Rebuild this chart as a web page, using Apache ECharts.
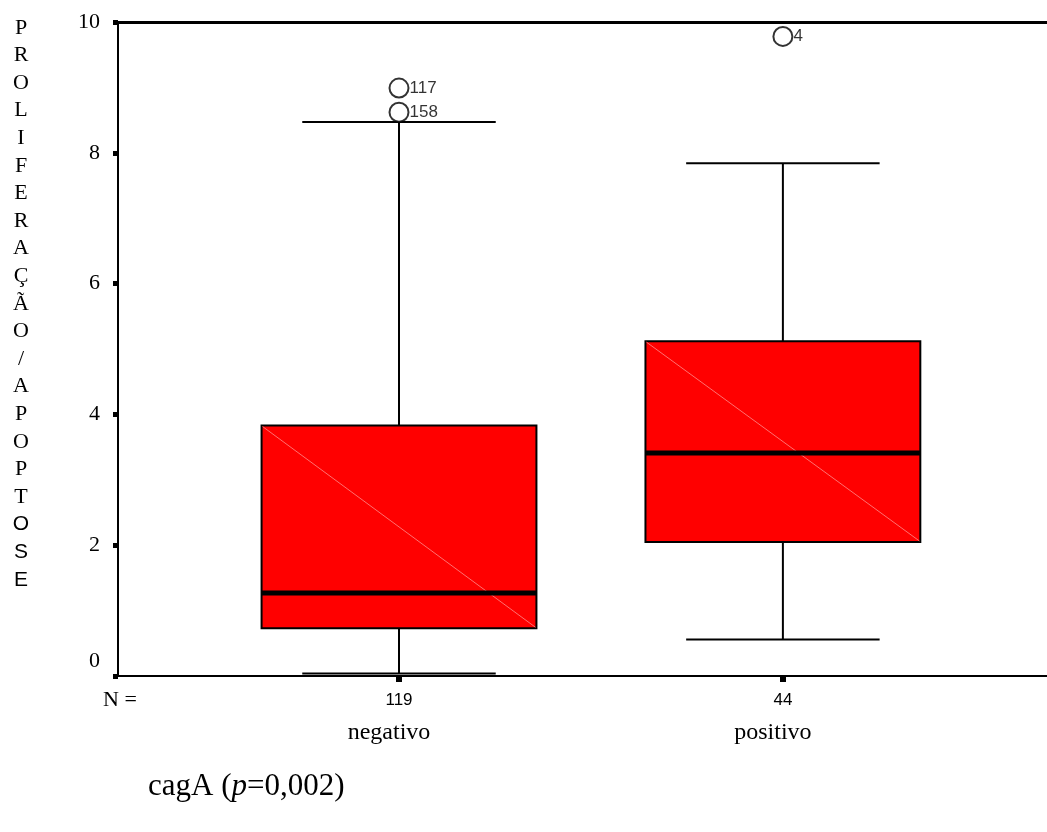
<!DOCTYPE html>
<html>
<head>
<meta charset="utf-8">
<script src="https://cdn.jsdelivr.net/npm/echarts@6/dist/echarts.min.js"></script>
<style>html,body{margin:0;padding:0;background:#fff}#c{width:1047px;height:832px}</style>
</head>
<body>
<div id="c"></div>
<script>
// ---- data ----
const categories = ['negativo', 'positivo'];
const nCounts = ['119', '44'];
const lowWhisker = [0.04, 0.56];
const q1 = [0.73, 2.05];
const median = [1.27, 3.41];
const q3 = [3.83, 5.12];
const highWhisker = [8.47, 7.84];
const outlierGroup = [0, 0, 1];
const outlierValue = [8.99, 8.62, 9.78];
const outlierCase = ['117', '158', '4'];
const yTickValues = [0, 2, 4, 6, 8, 10];
const yAxisTitleLetters = ['P','R','O','L','I','F','E','R','A','Ç','Ã','O','/','A','P','O','P','T','O','S','E'];
const titleParts = ['cagA (', 'p', '=0,002)'];

// ---- build ----
const boxData = categories.map((c, i) => [i + 1, lowWhisker[i], q1[i], median[i], q3[i], highWhisker[i]]);
const outData = outlierValue.map((v, i) => [outlierGroup[i] + 1, v, outlierCase[i]]);

const BOX_HALF = 0.358, CAP_HALF = 0.252;
const serif = 'Liberation Serif', sans = 'Liberation Sans';

function renderBox(params, api) {
  const x = api.value(0);
  const lo = api.value(1), a = api.value(2), m = api.value(3), b = api.value(4), hi = api.value(5);
  const tl = api.coord([x - BOX_HALF, b]);
  const br = api.coord([x + BOX_HALF, a]);
  const mL = api.coord([x - BOX_HALF, m]);
  const mR = api.coord([x + BOX_HALF, m]);
  const c = api.coord([x, hi]);
  const cq3 = api.coord([x, b]);
  const cq1 = api.coord([x, a]);
  const cl = api.coord([x, lo]);
  const capHiL = api.coord([x - CAP_HALF, hi]), capHiR = api.coord([x + CAP_HALF, hi]);
  const capLoL = api.coord([x - CAP_HALF, lo]), capLoR = api.coord([x + CAP_HALF, lo]);
  const ls = { stroke: '#000', lineWidth: 2 };
  return {
    type: 'group',
    children: [
      { type: 'line', shape: { x1: c[0], y1: c[1], x2: cq3[0], y2: cq3[1] }, style: ls },
      { type: 'line', shape: { x1: capHiL[0], y1: capHiL[1], x2: capHiR[0], y2: capHiR[1] }, style: ls },
      { type: 'line', shape: { x1: cq1[0], y1: cq1[1], x2: cl[0], y2: cl[1] }, style: ls },
      { type: 'line', shape: { x1: capLoL[0], y1: capLoL[1], x2: capLoR[0], y2: capLoR[1] }, style: ls },
      { type: 'rect', shape: { x: tl[0], y: tl[1], width: br[0] - tl[0], height: br[1] - tl[1] },
        style: { fill: '#ff0000', stroke: '#000', lineWidth: 2 } },
      { type: 'line', shape: { x1: tl[0] + 1, y1: tl[1] + 1, x2: br[0] - 1, y2: br[1] - 1 },
        style: { stroke: '#ff7070', lineWidth: 1 } },
      { type: 'line', shape: { x1: mL[0], y1: mL[1], x2: mR[0], y2: mR[1] },
        style: { stroke: '#000', lineWidth: 5 } }
    ]
  };
}

const yTitleText = yAxisTitleLetters.map((ch, i) => i >= yAxisTitleLetters.length - 3 ? '{s|' + ch + '}' : ch).join('\n');

const chart = echarts.init(document.getElementById('c'), null, { renderer: 'canvas' });
chart.setOption({
  animation: false,
  backgroundColor: '#fff',
  grid: { left: 118, right: 0, top: 22, bottom: 156, containLabel: false, outerBoundsMode: 'none' },
  xAxis: [{
    type: 'value', min: 0.268, max: 2.688, position: 'bottom',
    splitLine: { show: false },
    axisLine: { show: true, onZero: false, lineStyle: { color: '#000', width: 2 } },
    axisTick: { show: true, customValues: [1, 2], length: 6, lineStyle: { color: '#000', width: 6 } },
    axisLabel: {
      show: true, customValues: [1, 2], margin: 11,
      formatter: v => '{n|' + nCounts[Math.round(v) - 1] + '}\n{c|' + categories[Math.round(v) - 1] + '}',
      rich: {
        n: { fontFamily: sans, fontSize: 17, color: '#000', lineHeight: 26 },
        c: { fontFamily: serif, fontSize: 24, color: '#000', lineHeight: 40, padding: [0, 20, 0, 0] }
      }
    }
  }, {
    type: 'value', min: 0.268, max: 2.688, position: 'top',
    splitLine: { show: false },
    axisLine: { show: true, onZero: false, lineStyle: { color: '#000', width: 3 } },
    axisTick: { show: false }, axisLabel: { show: false }
  }],
  yAxis: {
    type: 'value', min: 0, max: 10, interval: 2,
    splitLine: { show: false },
    axisLine: { show: true, onZero: false, lineStyle: { color: '#000', width: 2 } },
    axisTick: { show: true, length: 5, lineStyle: { color: '#000', width: 5 } },
    axisLabel: {
      margin: 18, color: '#000', fontFamily: serif, fontSize: 22,
      formatter: v => v === 0 ? '{z|0}' : String(v),
      rich: { z: { fontFamily: serif, fontSize: 22, color: '#000', padding: [0, 0, 30, 0] } }
    }
  },
  graphic: [
    { type: 'text', style: { x: 21, y: 14, text: yTitleText, align: 'center', verticalAlign: 'top',
      fontFamily: serif, fontSize: 22, lineHeight: 27.6, fill: '#000',
      rich: { s: { fontFamily: sans, fontSize: 21, lineHeight: 27.6, fill: '#000' } } } },
    { type: 'text', style: { x: 103, y: 700, text: 'N =', verticalAlign: 'middle',
      fontFamily: serif, fontSize: 22, fill: '#000' } },
    { type: 'text', style: { x: 148, y: 787, verticalAlign: 'middle',
      text: '{r|' + titleParts[0] + '}{i|' + titleParts[1] + '}{r|' + titleParts[2] + '}',
      rich: {
        r: { fontFamily: serif, fontSize: 31, fill: '#000' },
        i: { fontFamily: serif, fontSize: 31, fontStyle: 'italic', fill: '#000' }
      } } }
  ],
  series: [{
    type: 'custom', renderItem: renderBox, data: boxData, xAxisIndex: 0,
    encode: { x: 0, y: [1, 2, 3, 4, 5] }, z: 2
  }, {
    type: 'scatter', data: outData, xAxisIndex: 0, symbol: 'circle', symbolSize: 19,
    itemStyle: { color: '#fff', borderColor: '#000', borderWidth: 2 }, z: 3,
    label: { show: true, position: 'right', distance: 0, formatter: p => p.data[2],
      fontFamily: sans, fontSize: 17, color: '#000' }
  }]
});
</script>
</body>
</html>
